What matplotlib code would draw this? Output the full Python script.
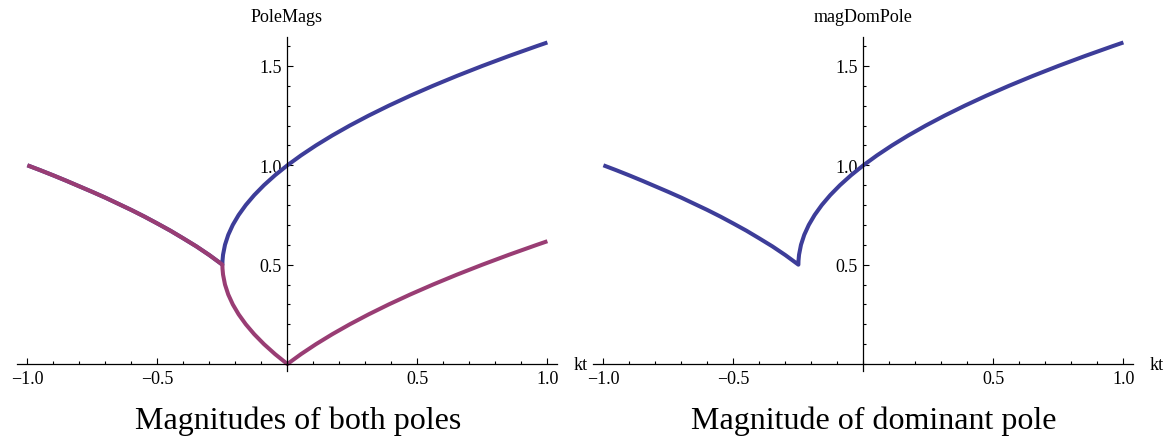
import matplotlib.pyplot as plt
from matplotlib.ticker import MultipleLocator, FixedLocator

# kt < -0.25 : complex pair, both poles same magnitude
kt_complex = [-1.0, -0.95, -0.9, -0.85, -0.8, -0.75, -0.7, -0.65, -0.6,
              -0.55, -0.5, -0.45, -0.4, -0.35, -0.3, -0.25]
mag_complex = [1.0, 0.975, 0.949, 0.922, 0.894, 0.866, 0.837, 0.806, 0.775,
               0.742, 0.707, 0.671, 0.632, 0.592, 0.548, 0.5]

# real poles, larger one
kt_big = [-0.25, -0.2496, -0.2475, -0.24, -0.2275, -0.21, -0.1875, -0.16,
          -0.1275, -0.09, -0.0475, 0.0, 0.0525, 0.11, 0.1725, 0.24, 0.3125,
          0.39, 0.4725, 0.56, 0.6525, 0.75, 0.8525, 0.96, 1.0]
mag_big = [0.5, 0.52, 0.55, 0.6, 0.65, 0.7, 0.75, 0.8, 0.85, 0.9, 0.95, 1.0,
           1.05, 1.1, 1.15, 1.2, 1.25, 1.3, 1.35, 1.4, 1.45, 1.5, 1.55, 1.6,
           1.618]

# real poles, smaller one
kt_small = [-0.25, -0.2496, -0.2475, -0.24, -0.2275, -0.21, -0.1875, -0.16,
            -0.1275, -0.09, -0.0475, 0.0, 0.0525, 0.11, 0.1725, 0.24, 0.3125,
            0.39, 0.4725, 0.56, 0.6525, 0.75, 0.8525, 0.96, 1.0]
mag_small = [0.5, 0.48, 0.45, 0.4, 0.35, 0.3, 0.25, 0.2, 0.15, 0.1, 0.05, 0.0,
             0.05, 0.1, 0.15, 0.2, 0.25, 0.3, 0.35, 0.4, 0.45, 0.5, 0.55, 0.6,
             0.618]

titles = ["PoleMags", "magDomPole"]
captions = ["Magnitudes of both poles", "Magnitude of dominant pole"]

blue = "#3d3d99"
purple = "#993d74"

plt.rcParams['font.family'] = ['Liberation Serif', 'DejaVu Serif']

W, H = 1167, 439
fig = plt.figure(figsize=(W / 100, H / 100), dpi=100)


def make_axes(x0):
    # x0 = pixel position of left edge of axes
    ax = fig.add_axes([x0 / W, (H - 372) / H, 540 / W, 333.7 / H])
    ax.set_xlim(-1.04, 1.037)
    ax.set_ylim(-0.035, 1.644)
    for s in ['top', 'right']:
        ax.spines[s].set_visible(False)
    ax.spines['left'].set_position(('data', 0))
    ax.spines['bottom'].set_position(('data', 0))
    for s in ['left', 'bottom']:
        ax.spines[s].set_linewidth(0.9)
    ax.xaxis.set_major_locator(FixedLocator([-1.0, -0.5, 0.5, 1.0]))
    ax.yaxis.set_major_locator(FixedLocator([0.5, 1.0, 1.5]))
    ax.xaxis.set_minor_locator(MultipleLocator(0.1))
    ax.yaxis.set_minor_locator(MultipleLocator(0.1))
    ax.xaxis.set_major_formatter(plt.FuncFormatter(lambda v, p: f"{v:.1f}".replace('-', '\u2212')))
    ax.yaxis.set_major_formatter(plt.FuncFormatter(lambda v, p: f"{v:.1f}"))
    ax.tick_params(which='both', direction='in', width=0.8, labelsize=13, pad=4)
    ax.tick_params(which='major', length=4.5)
    ax.tick_params(which='minor', length=2.5)
    ax.annotate('kt', xy=(1, 0), xycoords=('axes fraction', 'data'),
                xytext=(12, 0), textcoords='offset points',
                ha='left', va='center', fontsize=13)
    return ax


ax1 = make_axes(17)
ax1.plot(kt_complex + kt_big[1:], mag_complex + mag_big[1:], color=blue,
         lw=2.9, solid_capstyle='butt', clip_on=False)
ax1.plot(kt_complex + kt_small[1:], mag_complex + mag_small[1:], color=purple,
         lw=2.9, solid_capstyle='butt', clip_on=False)
ax1.set_title(titles[0], fontsize=13, pad=12)

ax2 = make_axes(593)
ax2.plot(kt_complex + kt_big[1:], mag_complex + mag_big[1:], color=blue,
         lw=2.9, solid_capstyle='butt', clip_on=False)
ax2.set_title(titles[1], fontsize=13, pad=12)

fig.text(298 / W, 1 - 421 / H, captions[0], ha='center', va='center', fontsize=23)
fig.text(874 / W, 1 - 421 / H, captions[1], ha='center', va='center', fontsize=23)

plt.savefig('out.png', dpi=100)
